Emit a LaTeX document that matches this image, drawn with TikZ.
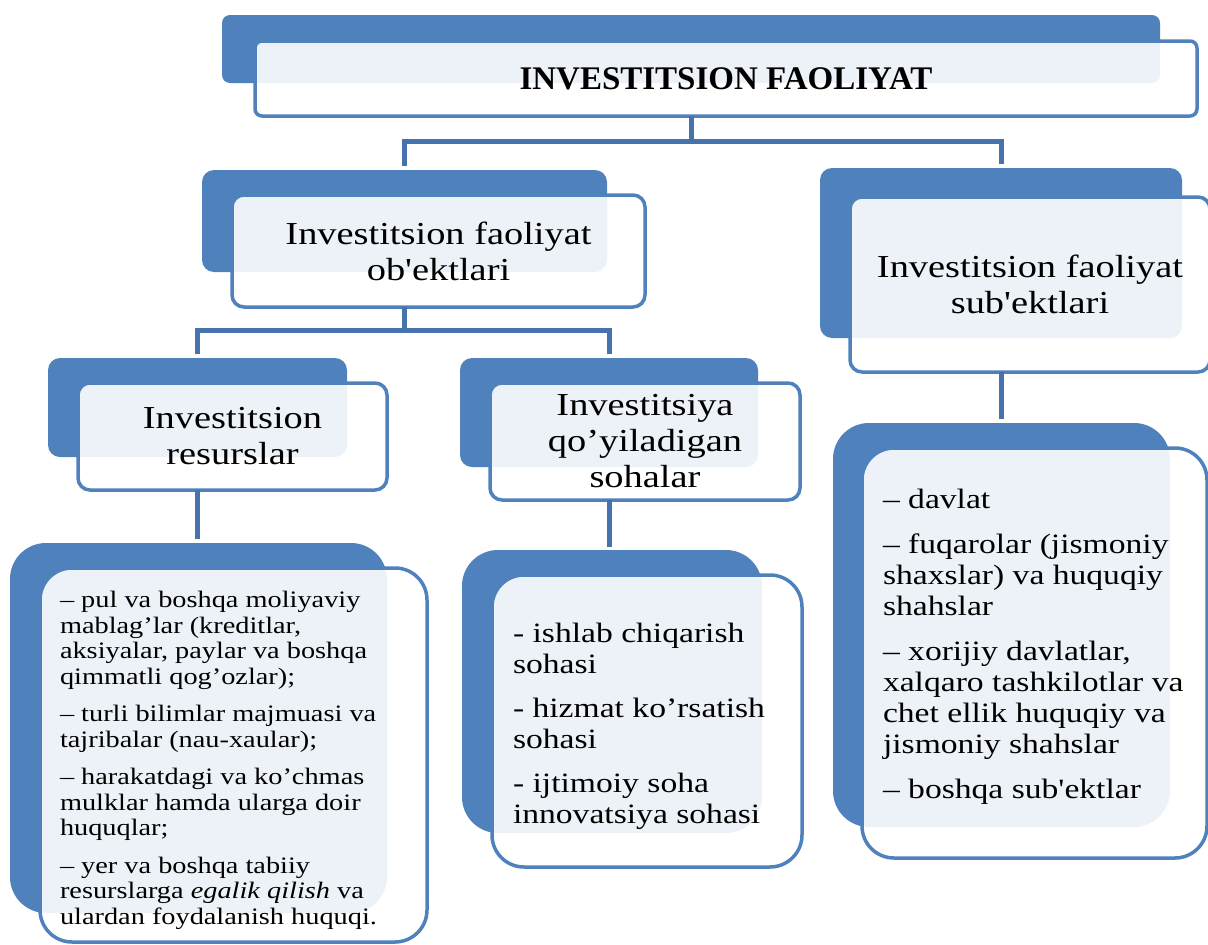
\documentclass[tikz,border=0pt]{standalone}
\usepackage{fontspec}
\setmainfont{Liberation Serif}
\newfontfamily\bodyfont[FakeStretch=1.2,Ligatures=TeXOff]{Liberation Serif}
\newfontfamily\titlefont[Ligatures=TeXOff]{Liberation Serif}
\definecolor{cblue}{HTML}{4F81BD}
\definecolor{cline}{HTML}{4673AC}
\tikzset{
  backbox/.style={fill=cblue, draw=none, rounded corners=#1, inner sep=0pt, outer sep=0pt},
  frontbox/.style={fill=white, fill opacity=0.9, text opacity=1, draw=cblue, line width=3.5pt,
    rounded corners=#1, inner sep=0pt, outer sep=0pt, align=center},
  conn/.style={draw=cline, line width=5pt},
  hdr/.style={font=\bodyfont\fontsize{32}{36}\selectfont},
  listtxt/.style={inner sep=0pt, outer sep=0pt, anchor=north west, align=left, text=black},
}
\begin{document}
\begin{tikzpicture}[x=1pt,y=-1pt]
\useasboundingbox (0,0) rectangle (1208,945);
\fill[white] (0,0) rectangle (1208,945);

% top
\node[backbox=8pt, minimum width=938pt, minimum height=68pt] (tb) at (691,49) {};
\node[frontbox=7pt, minimum width=942pt, minimum height=75pt,
      font=\titlefont\bfseries\fontsize{33}{36}\selectfont] (tf) at (726,78.5) {INVESTITSION FAOLIYAT};

% level 2 left
\node[backbox=12pt, minimum width=405pt, minimum height=102pt] (l2lb) at (404.5,221) {};
\node[frontbox=12pt, hdr, minimum width=413pt, minimum height=112pt] (l2lf) at (438.5,251)
  {Investitsion faoliyat\\ob'ektlari};

% level 2 right
\node[backbox=12pt, minimum width=362pt, minimum height=170pt] (l2rb) at (1001,253) {};
\node[frontbox=12pt, hdr, minimum width=360pt, minimum height=175pt] (l2rf) at (1030,284.5)
  {Investitsion faoliyat\\sub'ektlari};

% level 3 left
\node[backbox=12pt, minimum width=299pt, minimum height=99pt] (l3lb) at (197.5,407.5) {};
\node[frontbox=12pt, hdr, minimum width=309pt, minimum height=107pt] (l3lf) at (232.5,436.5)
  {Investitsion\\resurslar};

% level 3 middle
\node[backbox=12pt, minimum width=298pt, minimum height=109pt] (l3mb) at (609,412.5) {};
\node[frontbox=12pt, hdr, minimum width=310pt, minimum height=117pt] (l3mf) at (645,441.5)
  {Investitsiya\\qo’yiladigan\\sohalar};

% bottom left
\node[backbox=36pt, minimum width=377pt, minimum height=370pt] (blb) at (198.5,728) {};
\node[frontbox=32pt, minimum width=387pt, minimum height=374pt] (blf) at (233.5,755) {};
\node[listtxt, font=\bodyfont\fontsize{23.6}{25.5}\selectfont] (blt) at (60,590)
  {\strut– pul va boshqa moliyaviy\\
   mablag’lar (kreditlar,\\
   aksiyalar, paylar va boshqa\\
   qimmatli qog’ozlar);\\[12pt]
   – turli bilimlar majmuasi va\\
   tajribalar (nau-xaular);\\[12pt]
   – harakatdagi va ko’chmas\\
   mulklar hamda ularga doir\\
   huquqlar;\\[12pt]
   – yer va boshqa tabiiy\\
   resurslarga \textit{egalik qilish} va\\
   ulardan foydalanish huquqi.};

% bottom middle
\node[backbox=36pt, minimum width=300pt, minimum height=283pt] (bmb) at (612,691.5) {};
\node[frontbox=32pt, minimum width=310pt, minimum height=292pt] (bmf) at (647,721) {};
\node[listtxt, font=\bodyfont\fontsize{28}{31}\selectfont] (bmt) at (513,620.3)
  {\strut- ishlab chiqarish\\
   sohasi\\[13pt]
   - hizmat ko’rsatish\\
   sohasi\\[13pt]
   - ijtimoiy soha\\
   innovatsiya sohasi};

% bottom right
\node[backbox=36pt, minimum width=337pt, minimum height=404pt] (brb) at (1001.5,625) {};
\node[frontbox=32pt, minimum width=345pt, minimum height=410pt] (brf) at (1034.5,653) {};
\node[listtxt, font=\bodyfont\fontsize{28}{31}\selectfont] (brt) at (883,487)
  {\strut– davlat\\[14pt]
   – fuqarolar (jismoniy\\
   shaxslar) va huquqiy\\
   shahslar\\[14pt]
   – xorijiy davlatlar,\\
   xalqaro tashkilotlar va\\
   chet ellik huquqiy va\\
   jismoniy shahslar\\[14pt]
   – boshqa sub'ektlar};

% connectors
\path (tb |- tf.south) ++(0,25) coordinate (j1);
\draw[conn] (tb |- tf.south) -- (j1);
\draw[conn, shorten >=4pt] (j1) -| (l2lb.north);
\draw[conn, shorten >=4pt] (j1) -| (l2rb.north);

\path (l2lb |- l2lf.south) ++(0,23) coordinate (j2);
\draw[conn] (l2lb |- l2lf.south) -- (j2);
\draw[conn, shorten >=4pt] (j2) -| (l3lb.north);
\draw[conn, shorten >=4pt] (j2) -| (l3mb.north);

\draw[conn, shorten >=4pt] (l3lb |- l3lf.south) -- (l3lb |- blb.north);
\draw[conn, shorten >=3pt] (l3mb |- l3mf.south) -- (l3mb |- bmb.north);
\draw[conn, shorten >=4pt] (l2rb |- l2rf.south) -- (l2rb |- brb.north);
\end{tikzpicture}
\end{document}
